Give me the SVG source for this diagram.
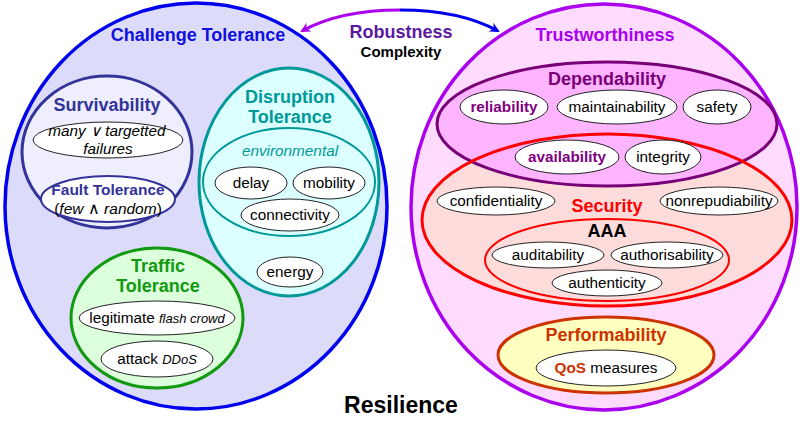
<svg xmlns="http://www.w3.org/2000/svg" width="802" height="425" viewBox="0 0 802 425">
<defs>
<style>
text{font-family:"Liberation Sans",Arial,sans-serif;text-anchor:middle}
.b{font-weight:bold}
.i{font-style:italic}
.leaf{fill:#fff;stroke:#222;stroke-width:1}
.t16{font-size:18px}
.t14{font-size:15.3px}
</style>
<marker id="ahP" markerWidth="10" markerHeight="10" refX="8" refY="5" orient="auto" markerUnits="userSpaceOnUse"><path d="M0,0 L10,5 L0,10 L3,5 z" fill="#aa00ee"/></marker>
<marker id="ahB" markerWidth="10" markerHeight="10" refX="8" refY="5" orient="auto" markerUnits="userSpaceOnUse"><path d="M0,0 L10,5 L0,10 L3,5 z" fill="#0000ee"/></marker>
</defs>
<rect width="802" height="425" fill="#fff"/>

<g id="challenge-tolerance">
<ellipse cx="196" cy="206" rx="191" ry="203" fill="#dcdcfa" stroke="#0000ee" stroke-width="3.5"/>
<text x="198" y="41" class="b t16" fill="#1010dd">Challenge Tolerance</text>
</g>

<g id="trustworthiness">
<ellipse cx="604" cy="207" rx="193" ry="203" fill="#ffdcff" stroke="#aa00ee" stroke-width="3.5"/>
<text x="605" y="41" class="b t16" fill="#aa00ee">Trustworthiness</text>
</g>

<g id="connectors">
<path d="M400,10 Q340,10 302,31" fill="none" stroke="#aa00ee" stroke-width="3" marker-end="url(#ahP)"/>
<path d="M400,10 Q460,10 498,31" fill="none" stroke="#0000ee" stroke-width="3" marker-end="url(#ahB)"/>
</g>

<g id="robustness">
<text x="401" y="38" class="b t16" fill="#5b1a9e">Robustness</text>
<text x="401" y="57" class="b" font-size="15" fill="#000">Complexity</text>
</g>

<g id="survivability">
<ellipse cx="107" cy="152" rx="85" ry="76" fill="#eeeeff" stroke="#333399" stroke-width="3"/>
<text x="107" y="111" class="b t16" fill="#333399">Survivability</text>
</g>
<g id="many-targetted">
<ellipse cx="108" cy="140" rx="75" ry="18" class="leaf"/>
<text x="107" y="136" class="i t14">many ∨ targetted</text>
<text x="108" y="154" class="i t14">failures</text>
</g>
<g id="fault-tolerance">
<ellipse cx="108" cy="199" rx="67" ry="23" fill="#fff" stroke="#333399" stroke-width="2"/>
<text x="108" y="195" class="b" font-size="15.5" fill="#333399">Fault Tolerance</text>
<text x="108" y="214" font-size="15.5">(<tspan class="i">few</tspan> ∧ <tspan class="i">random</tspan>)</text>
</g>

<g id="disruption-tolerance">
<ellipse cx="289" cy="182" rx="90" ry="114" fill="#dcffff" stroke="#009999" stroke-width="3"/>
<text x="290" y="103" class="b t16" fill="#009999">Disruption</text>
<text x="290" y="123" class="b t16" fill="#009999">Tolerance</text>
</g>
<g id="environmental">
<ellipse cx="289" cy="182" rx="86" ry="54" fill="#dcffff" stroke="#009999" stroke-width="2"/>
<text x="290" y="156" class="i t14" fill="#009999">environmental</text>
</g>
<g id="delay"><ellipse cx="251" cy="183" rx="36" ry="16" class="leaf"/><text x="251" y="188" class="t14">delay</text></g>
<g id="mobility"><ellipse cx="329" cy="183" rx="36" ry="16" class="leaf"/><text x="329" y="188" class="t14">mobility</text></g>
<g id="connectivity"><ellipse cx="290" cy="215" rx="49" ry="16" class="leaf"/><text x="290" y="220" class="t14">connectivity</text></g>
<g id="energy"><ellipse cx="290" cy="272" rx="33" ry="15" class="leaf"/><text x="290" y="277" class="t14">energy</text></g>

<g id="traffic-tolerance">
<ellipse cx="157" cy="318" rx="86" ry="70" fill="#dcffdc" stroke="#119911" stroke-width="3"/>
<text x="158" y="272" class="b t16" fill="#119911">Traffic</text>
<text x="158" y="292" class="b t16" fill="#119911">Tolerance</text>
</g>
<g id="legitimate"><ellipse cx="157" cy="318" rx="78" ry="17" class="leaf"/><text x="157" y="323"><tspan class="t14">legitimate </tspan><tspan class="i" font-size="13">flash crowd</tspan></text></g>
<g id="attack"><ellipse cx="157" cy="359" rx="56" ry="18" class="leaf"/><text x="157" y="364"><tspan class="t14">attack </tspan><tspan class="i" font-size="13"> DDoS</tspan></text></g>

<g id="security">
<ellipse cx="607" cy="220" rx="185" ry="86" fill="#ffdcdc"/>
</g>
<g id="dependability">
<ellipse cx="607" cy="124" rx="170" ry="62" fill="#ffb4ff" stroke="#770077" stroke-width="3"/>
<text x="607" y="85" class="b t16" fill="#770077">Dependability</text>
</g>
<g id="security-outline">
<ellipse cx="607" cy="220" rx="185" ry="86" fill="none" stroke="#ff0000" stroke-width="3"/>
<text x="607" y="212" class="b t16" fill="#ff0000">Security</text>
</g>
<g id="reliability"><ellipse cx="504" cy="107" rx="44" ry="17" class="leaf"/><text x="504" y="112" class="b t14" fill="#800080">reliability</text></g>
<g id="maintainability"><ellipse cx="617" cy="107" rx="60" ry="17" class="leaf"/><text x="617" y="112" class="t14">maintainability</text></g>
<g id="safety"><ellipse cx="717" cy="107" rx="34" ry="17" class="leaf"/><text x="717" y="112" class="t14">safety</text></g>
<g id="availability"><ellipse cx="567" cy="157" rx="52" ry="17" class="leaf"/><text x="567" y="162" class="b t14" fill="#800080">availability</text></g>
<g id="integrity"><ellipse cx="663" cy="157" rx="38" ry="17" class="leaf"/><text x="663" y="162" class="t14">integrity</text></g>
<g id="confidentiality"><ellipse cx="496" cy="201" rx="59" ry="14" class="leaf"/><text x="496" y="206" class="t14">confidentiality</text></g>
<g id="nonrepudiability"><ellipse cx="719" cy="201" rx="59" ry="14" class="leaf"/><text x="719" y="206" class="t14">nonrepudiability</text></g>

<g id="aaa">
<ellipse cx="607" cy="260" rx="122" ry="41" fill="#ffdcdc" stroke="#ff0000" stroke-width="2"/>
<text x="607" y="237" class="b t16" fill="#000">AAA</text>
</g>
<g id="auditability"><ellipse cx="548" cy="255" rx="56" ry="13" class="leaf"/><text x="548" y="260" class="t14">auditability</text></g>
<g id="authorisability"><ellipse cx="667" cy="255" rx="56" ry="13" class="leaf"/><text x="667" y="260" class="t14">authorisability</text></g>
<g id="authenticity"><ellipse cx="607" cy="283" rx="55" ry="13" class="leaf"/><text x="607" y="288" class="t14">authenticity</text></g>

<g id="performability">
<ellipse cx="606" cy="355" rx="108" ry="38" fill="#ffffc0" stroke="#cc3300" stroke-width="3"/>
<text x="606" y="341" class="b t16" fill="#cc3300">Performability</text>
</g>
<g id="qos"><ellipse cx="606" cy="368" rx="70" ry="18" class="leaf"/><text x="606" y="373" class="t14"><tspan class="b" fill="#cc3300">QoS</tspan> measures</text></g>

<g id="resilience">
<text x="401" y="413" class="b" font-size="23" fill="#000">Resilience</text>
</g>
</svg>
